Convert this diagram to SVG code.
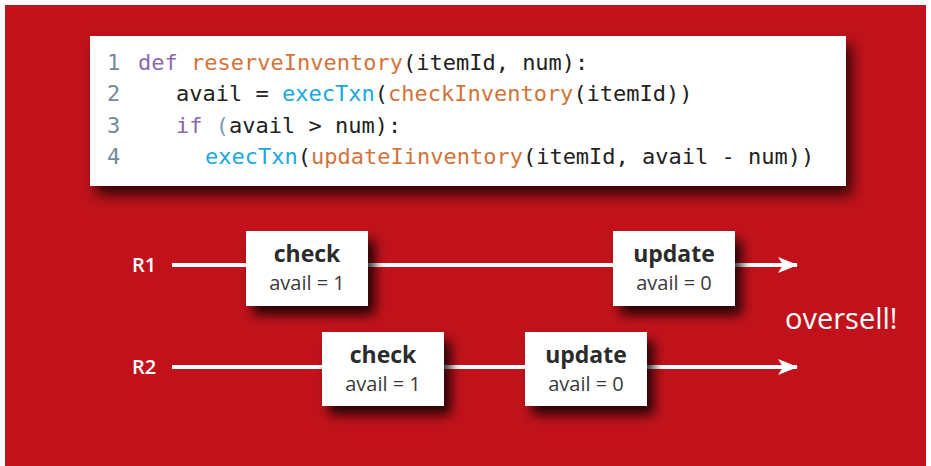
<svg xmlns="http://www.w3.org/2000/svg" width="931" height="466" viewBox="0 0 931 466">
<defs>
<filter id="sh" x="-30%" y="-30%" width="170%" height="180%">
<feDropShadow dx="7" dy="9" stdDeviation="6" flood-color="#000" flood-opacity="0.8"/>
</filter>
<filter id="sh2" x="-10%" y="-20%" width="120%" height="160%">
<feDropShadow dx="6" dy="9" stdDeviation="7" flood-color="#000" flood-opacity="0.75"/>
</filter>
<marker id="arr" viewBox="0 0 20 16" refX="19" refY="8" markerWidth="20" markerHeight="16" markerUnits="userSpaceOnUse" orient="auto">
<path d="M0,0 L20,8 L0,16 L5,8 Z" fill="#fff"/>
</marker>
<style>
.code{font-family:"DejaVu Sans Mono","Liberation Mono",monospace;font-size:22px;fill:#222}
.ln{fill:#6f8a99}
.kw{fill:#8b68aa}
.fn{fill:#d2743a}
.cy{fill:#1ba8dc}
.par{fill:#7f9cab}
.lane{font-family:"Open Sans","Noto Sans",sans-serif;font-size:20px;font-weight:600;fill:#fff}
.box{fill:#fff}
.t1{font-family:"Open Sans","Noto Sans",sans-serif;font-size:23px;font-weight:700;fill:#2b2b2b;text-anchor:middle}
.t2{font-family:"Open Sans","Noto Sans",sans-serif;font-size:20px;fill:#3a3a3a;text-anchor:middle}
.ln2{stroke:#fff;stroke-width:4;fill:none}
</style>
</defs>
<rect x="0" y="0" width="931" height="466" fill="#fff"/>
<rect x="5" y="5" width="921" height="461" fill="#c1121b"/>

<g id="code">
<rect x="90" y="36" width="756" height="150" fill="#fff" filter="url(#sh2)"/>
<text class="code" x="107" y="70" xml:space="preserve"><tspan class="ln">1</tspan> <tspan x="138" class="kw">def</tspan> <tspan class="fn">reserveInventory</tspan>(itemId, num):</text>
<text class="code" x="107" y="101" xml:space="preserve"><tspan class="ln">2</tspan><tspan x="176">avail = </tspan><tspan class="cy">execTxn</tspan>(<tspan class="fn">checkInventory</tspan>(itemId))</text>
<text class="code" x="107" y="133" xml:space="preserve"><tspan class="ln">3</tspan><tspan x="176" class="kw">if</tspan> <tspan class="par">(</tspan>avail &gt; num):</text>
<text class="code" x="107" y="164" xml:space="preserve"><tspan class="ln">4</tspan><tspan x="205" class="cy">execTxn</tspan>(<tspan class="fn">updateIinventory</tspan>(itemId, avail - num))</text>
</g>

<g id="connectors">
<line class="ln2" x1="172" y1="265" x2="797" y2="265" marker-end="url(#arr)"/>
<line class="ln2" x1="172" y1="367" x2="797" y2="367" marker-end="url(#arr)"/>
</g>

<g id="labels">
<text class="lane" x="132" y="272">R1</text>
<text class="lane" x="132" y="374">R2</text>
</g>

<g id="r1-check">
<rect class="box" x="246" y="231" width="122" height="75" filter="url(#sh)"/>
<text class="t1" x="307" y="262">check</text>
<text class="t2" x="307" y="290">avail = 1</text>
</g>
<g id="r1-update">
<rect class="box" x="613" y="231" width="122" height="75" filter="url(#sh)"/>
<text class="t1" x="674" y="262">update</text>
<text class="t2" x="674" y="290">avail = 0</text>
</g>
<g id="r2-check">
<rect class="box" x="322" y="332" width="122" height="74" filter="url(#sh)"/>
<text class="t1" x="383" y="363">check</text>
<text class="t2" x="383" y="391">avail = 1</text>
</g>
<g id="r2-update">
<rect class="box" x="525" y="332" width="122" height="74" filter="url(#sh)"/>
<text class="t1" x="586" y="363">update</text>
<text class="t2" x="586" y="391">avail = 0</text>
</g>

<g id="oversell">
<text x="785" y="329" font-family="Open Sans, Noto Sans, sans-serif" font-size="29" font-weight="500" fill="#fff">oversell!</text>
</g>
</svg>
